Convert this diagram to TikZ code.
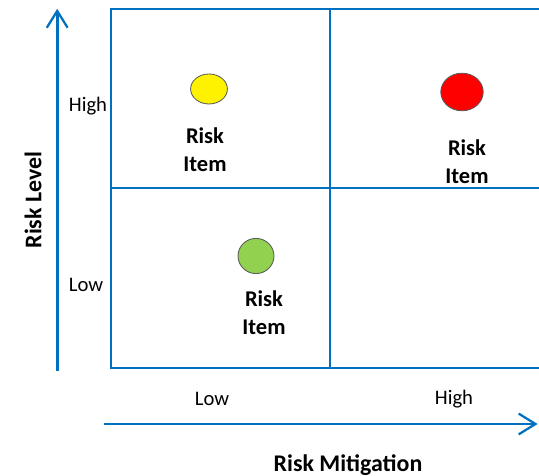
\documentclass[tikz,border=0pt]{standalone}
\usepackage{fontspec}
\setmainfont{Carlito}
\usetikzlibrary{arrows.meta,shapes.geometric}
\definecolor{axisblue}{HTML}{0070C0}
\definecolor{itemgreen}{HTML}{92D050}
\begin{document}
\begin{tikzpicture}[
    gridline/.style={draw=axisblue, line width=1.4pt},
    axisline/.style={draw=axisblue, line width=2pt, -{Straight Barb[length=0.42cm,width=0.52cm,line width=1.6pt]}},
    lvl/.style={font=\fontsize{14.7}{17}\selectfont},
    axistitle/.style={font=\fontsize{17}{20}\selectfont\bfseries},
    itemtext/.style={font=\fontsize{16}{20}\selectfont\bfseries, align=center},
    dot/.style={ellipse, draw=black!65, line width=0.6pt, inner sep=0pt}
]
        \useasboundingbox (0,0) rectangle (13.475,11.9);

        % grid
        \draw[gridline] (13.475,11.68) -- (2.78,11.68) -- (2.78,2.7) -- (13.475,2.7);
        \draw[gridline] (2.78,7.2) -- (13.475,7.2);
        \draw[gridline] (8.25,11.68) -- (8.25,2.7);

        % axes
        \coordinate (ybot) at (1.43,2.62);
        \coordinate (ytop) at (1.43,11.68);
        \coordinate (xleft) at (2.6,1.3);
        \coordinate (xright) at (13.44,1.3);
        \draw[axisline] (ybot) -- (ytop);
        \draw[axisline] (xleft) -- (xright);

        \node[axistitle, rotate=90] (ylabel) at (0.83,6.9) {Risk Level};
        \node[axistitle] (xlabel) at (8.7,0.28) {Risk Mitigation};

        \node[lvl] (yhigh) at (2.2,9.25) {High};
        \node[lvl] (ylow) at (2.15,4.78) {Low};
        \node[lvl] (xlow) at (5.3,1.93) {Low};
        \node[lvl] (xhigh) at (11.35,1.93) {High};

        % risk items
        \node[dot, fill=yellow, minimum width=0.92cm, minimum height=0.75cm] (yellowdot) at (5.225,9.675) {};
        \node[itemtext] (yellowitem) at (5.125,8.15) {Risk\\Item};

        \node[dot, fill=red, minimum width=1.06cm, minimum height=0.94cm] (reddot) at (11.55,9.6) {};
        \node[itemtext] (reditem) at (11.675,7.85) {Risk\\Item};

        \node[dot, fill=itemgreen, minimum width=0.9cm, minimum height=0.88cm] (greendot) at (6.4,5.5) {};
        \node[itemtext] (greenitem) at (6.6,4.075) {Risk\\Item};
\end{tikzpicture}
\end{document}
